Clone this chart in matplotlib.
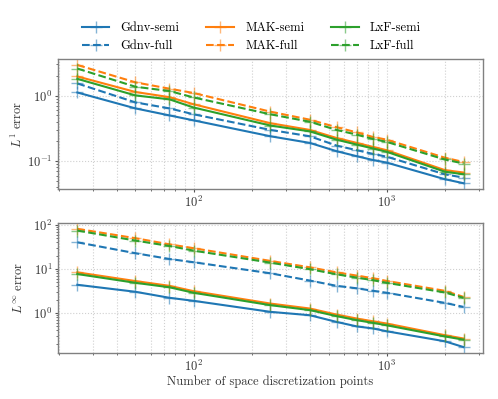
import numpy as np
import matplotlib
matplotlib.use("Agg")
import matplotlib.pyplot as plt

# ============================================================
# Datos: errores L1 y Linf vs numero de puntos
# ============================================================

n_pts = [25, 50, 75, 100, 250, 400, 550, 700, 850, 1000, 2000, 2500]

l1_gdnv_semi = [1.12, 0.64, 0.50, 0.42, 0.24, 0.19, 0.142, 0.119, 0.104, 0.095, 0.053, 0.046]
l1_gdnv_full = [1.54, 0.79, 0.64, 0.52, 0.30, 0.24, 0.173, 0.147, 0.129, 0.117, 0.063, 0.056]
l1_mak_semi = [1.97, 1.14, 0.95, 0.74, 0.38, 0.30, 0.226, 0.19, 0.165, 0.147, 0.073, 0.067]
l1_mak_full = [2.95, 1.60, 1.28, 1.10, 0.57, 0.43, 0.33, 0.275, 0.234, 0.213, 0.113, 0.097]
l1_lxf_semi = [1.81, 1.01, 0.88, 0.66, 0.35, 0.285, 0.213, 0.179, 0.156, 0.139, 0.069, 0.063]
l1_lxf_full = [2.60, 1.37, 1.18, 0.94, 0.52, 0.40, 0.30, 0.254, 0.218, 0.197, 0.106, 0.092]

linf_gdnv_semi = [4.33, 3.0, 2.19, 1.87, 1.05, 0.88, 0.62, 0.49, 0.44, 0.38, 0.225, 0.166]
linf_gdnv_full = [40, 22.6, 16.7, 14.1, 7.9, 5.4, 4.1, 3.6, 3.16, 2.85, 1.68, 1.36]
linf_mak_semi = [8.3, 5.26, 4.1, 3.1, 1.62, 1.25, 0.91, 0.74, 0.64, 0.57, 0.31, 0.26]
linf_mak_full = [81, 49.6, 36, 29.4, 15.1, 10.8, 8.3, 7.0, 6.1, 5.3, 3.16, 2.3]
linf_lxf_semi = [7.6, 4.8, 3.8, 2.85, 1.49, 1.15, 0.84, 0.68, 0.59, 0.52, 0.29, 0.245]
linf_lxf_full = [74, 43.8, 33, 25.9, 13.8, 9.8, 7.5, 6.3, 5.5, 4.8, 2.9, 2.19]

plt.rcParams["font.family"] = "serif"
plt.rcParams["font.serif"] = ["cmr10"]
plt.rcParams["mathtext.fontset"] = "cm"
plt.rcParams["axes.formatter.use_mathtext"] = True
plt.rcParams["axes.unicode_minus"] = False
plt.rcParams["font.size"] = 9

col_g, col_m, col_l = "tab:blue", "tab:orange", "tab:green"
gris = "#808080"

fig = plt.figure(figsize=(4.98, 3.99), dpi=100)
ax1 = fig.add_axes([0.1165, 0.526, 0.853, 0.326])
ax2 = fig.add_axes([0.1165, 0.1153, 0.853, 0.326])

series_l1 = [
    (l1_gdnv_semi, col_g, "-", "Gdnv-semi"),
    (l1_gdnv_full, col_g, "--", "Gdnv-full"),
    (l1_mak_semi, col_m, "-", "MAK-semi"),
    (l1_mak_full, col_m, "--", "MAK-full"),
    (l1_lxf_semi, col_l, "-", "LxF-semi"),
    (l1_lxf_full, col_l, "--", "LxF-full"),
]
series_linf = [
    (linf_gdnv_semi, col_g, "-", "Gdnv-semi"),
    (linf_gdnv_full, col_g, "--", "Gdnv-full"),
    (linf_mak_semi, col_m, "-", "MAK-semi"),
    (linf_mak_full, col_m, "--", "MAK-full"),
    (linf_lxf_semi, col_l, "-", "LxF-semi"),
    (linf_lxf_full, col_l, "--", "LxF-full"),
]

for ax, series in [(ax1, series_l1), (ax2, series_linf)]:
    for vals, c, ls, lab in series:
        ax.plot(n_pts, vals, color=c, linestyle=ls, linewidth=1.5,
                marker="+", markersize=9, markeredgewidth=1.0,
                markeredgecolor=matplotlib.colors.to_rgba(c, 0.55), label=lab)
    ax.set_xscale("log")
    ax.set_yscale("log")
    ax.grid(True, which="both", axis="x", linestyle=":", color="#d0d0d0", linewidth=0.8)
    ax.grid(True, which="major", axis="y", linestyle=":", color="#d0d0d0", linewidth=0.8)
    for s in ax.spines.values():
        s.set_color(gris)
        s.set_linewidth(1.0)
    ax.tick_params(which="both", colors="#555555", labelcolor="#333333", direction="out")
    ax.tick_params(which="major", length=2.5, pad=1.5)
    ax.tick_params(which="minor", length=1.5)
    ax.tick_params(labelsize=9)

ax1.set_ylabel("$L^1$ error", color="#333333")
ax2.set_ylabel("$L^\\infty$ error", color="#333333")
ax1.yaxis.set_label_coords(-0.078, 0.5)
ax2.yaxis.set_label_coords(-0.078, 0.5)
ax2.set_xlabel("Number of space discretization points", color="#333333", labelpad=1)

h, l = ax1.get_legend_handles_labels()
fig.legend(h, l, loc="center", bbox_to_anchor=(0.505, 0.907), ncol=3,
           frameon=False, fontsize=9, handlelength=2.2, handletextpad=0.9,
           columnspacing=2.15, labelspacing=0.5)

fig.savefig("out.png", dpi=100)
